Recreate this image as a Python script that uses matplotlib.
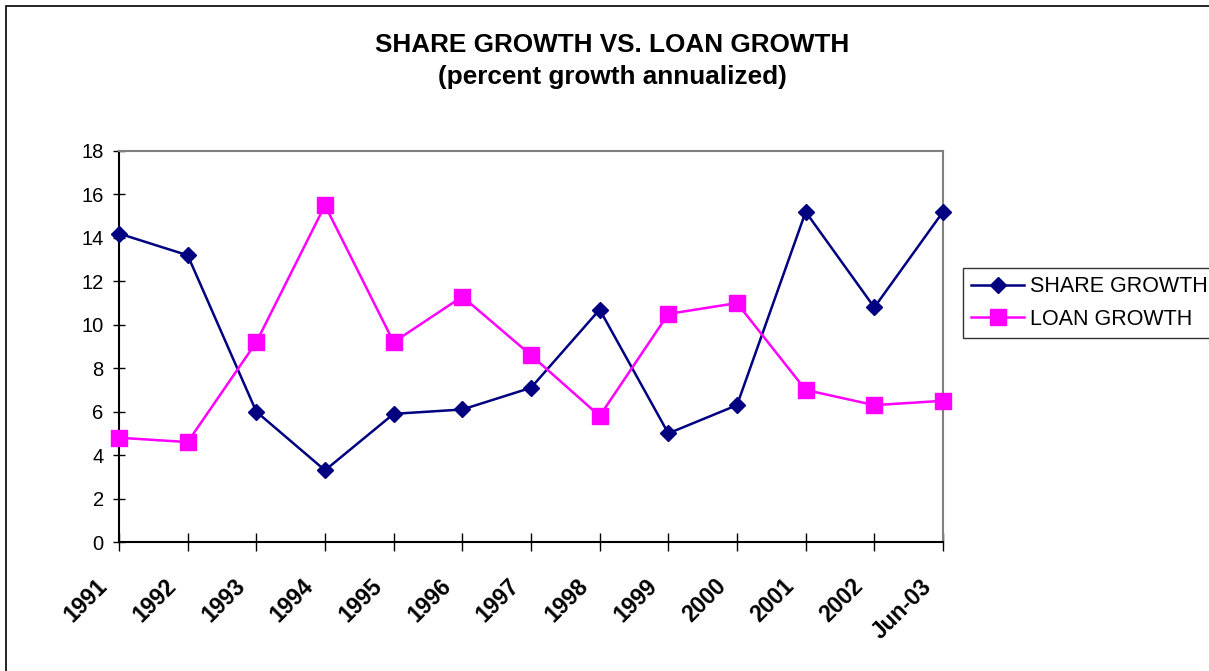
import matplotlib
matplotlib.use("Agg")
import matplotlib.pyplot as plt
from matplotlib.patches import Rectangle
from matplotlib.transforms import ScaledTranslation

categories = ["1991", "1992", "1993", "1994", "1995", "1996", "1997",
              "1998", "1999", "2000", "2001", "2002", "Jun-03"]
share_growth = [14.2, 13.2, 6.0, 3.3, 5.9, 6.1, 7.1, 10.7, 5.0, 6.3, 15.2, 10.8, 15.2]
loan_growth = [4.8, 4.6, 9.2, 15.5, 9.2, 11.3, 8.6, 5.8, 10.5, 11.0, 7.0, 6.3, 6.5]
y_ticks = [0, 2, 4, 6, 8, 10, 12, 14, 16, 18]

plt.rcParams['font.family'] = ['Liberation Sans', 'DejaVu Sans']

W, H = 1209, 671
fig = plt.figure(figsize=(W / 100, H / 100), dpi=100)

# outer chart border
fig.patches.append(Rectangle((6 / W, -0.05), 1.2, 1 - 6 / H + 0.05,
                             transform=fig.transFigure, fill=False,
                             edgecolor='black', linewidth=1.2))

ax = fig.add_axes([119 / W, 1 - 542 / H, (943 - 119) / W, (542 - 151) / H])
x = list(range(len(categories)))
l1, = ax.plot(x, share_growth, color='#000080', linewidth=1.8, marker='D',
              markersize=8.5, markerfacecolor='#000080', markeredgecolor='#000080',
              clip_on=False, zorder=3)
l2, = ax.plot(x, loan_growth, color='#FF00FF', linewidth=1.8, marker='s',
              markersize=11, markerfacecolor='#FF00FF', markeredgecolor='#FF00FF',
              clip_on=False, zorder=3)

ax.set_xlim(0, len(categories) - 1)
ax.set_ylim(0, 18)
ax.set_yticks(y_ticks)
ax.set_yticklabels([str(v) for v in y_ticks], fontsize=14.5)
ax.set_xticks(x)
ax.set_xticklabels(categories, fontsize=16.5, fontweight='bold', rotation=45,
                   ha='right', va='top', rotation_mode='anchor')
ax.tick_params(axis='x', direction='inout', length=13, width=1, pad=17)
ax.tick_params(axis='y', direction='inout', length=9, width=1, pad=6.5)
shift = ScaledTranslation(-23 / 100, 0, fig.dpi_scale_trans)
for lbl in ax.get_xticklabels():
    lbl.set_transform(lbl.get_transform() + shift)

for s in ['top', 'right']:
    ax.spines[s].set_color('#808080')
    ax.spines[s].set_linewidth(1.5)
for s in ['left', 'bottom']:
    ax.spines[s].set_color('black')
    ax.spines[s].set_linewidth(1.5)

fig.text(612 / W, 1 - 45 / H, "SHARE GROWTH VS. LOAN GROWTH", ha='center',
         va='center', fontsize=18.8, fontweight='bold')
fig.text(612 / W, 1 - 77 / H, "(percent growth annualized)", ha='center',
         va='center', fontsize=18.8, fontweight='bold')

leg = fig.legend([l1, l2], ["SHARE GROWTH", "LOAN GROWTH"],
                 loc='upper left', bbox_to_anchor=(963 / W, 1 - 268 / H),
                 frameon=True, fancybox=False, edgecolor='black', fontsize=15.5,
                 handlelength=2.45, handletextpad=0.28, borderpad=0.38,
                 labelspacing=0.55, borderaxespad=0)
leg.get_frame().set_linewidth(1)

fig.savefig("out.png", dpi=100)
